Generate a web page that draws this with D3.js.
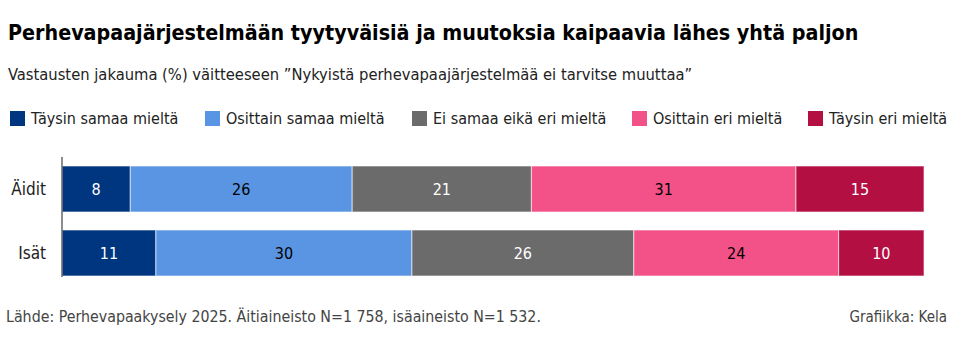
<!DOCTYPE html>
<html>
<head>
<meta charset="utf-8">
<script src="https://cdn.jsdelivr.net/npm/d3@7"></script>
<style>
  body { margin: 0; background: #fff; }
  text { font-family: "DejaVu Sans Condensed", "DejaVu Sans", sans-serif; }
</style>
</head>
<body>
<svg id="chart" width="960" height="353"></svg>
<script>
// Data
const groups = ['Äidit', 'Isät'];
const categories = ['Täysin samaa mieltä', 'Osittain samaa mieltä', 'Ei samaa eikä eri mieltä', 'Osittain eri mieltä', 'Täysin eri mieltä'];
const aiditValues = [8, 26, 21, 31, 15];
const isatValues = [11, 30, 26, 24, 10];
const colours = ['#003580', '#5a95e3', '#6b6b6b', '#f25287', '#b30f43'];
const labelColours = ['#fff', '#000', '#fff', '#000', '#fff'];

const svg = d3.select('#chart');

// Title and subtitle
svg.append('text')
  .attr('x', 8).attr('y', 40)
  .attr('font-size', 21.3).attr('font-weight', 'bold')
  .attr('fill', '#000')
  .text('Perhevapaajärjestelmään tyytyväisiä ja muutoksia kaipaavia lähes yhtä paljon');

svg.append('text')
  .attr('x', 8).attr('y', 80)
  .attr('font-size', 16.4).attr('fill', '#222')
  .text('Vastausten jakauma (%) väitteeseen ”Nykyistä perhevapaajärjestelmää ei tarvitse muuttaa”');

// Legend
const legendX = [10, 205, 412, 632, 808];
const legend = svg.append('g').attr('class', 'legend');
categories.forEach((c, i) => {
  const g = legend.append('g').attr('transform', `translate(${legendX[i]}, 111)`);
  g.append('rect').attr('width', 15).attr('height', 15).attr('fill', colours[i]);
  g.append('text').attr('x', 21).attr('y', 13).attr('font-size', 16).attr('fill', '#222').text(c);
});

// Scales
const x = d3.scaleLinear().domain([0, 101]).range([62, 924]);
const y = d3.scaleBand().domain(groups).range([166, 276]).paddingInner(0.28125).paddingOuter(0);

const rows = [aiditValues, isatValues].map((vals, gi) => {
  let acc = 0;
  return vals.map((v, i) => {
    const d = { group: groups[gi], i, v, x0: acc, x1: acc + v };
    acc += v;
    return d;
  });
});

const bars = svg.append('g').attr('class', 'bars');
rows.forEach(row => {
  const g = bars.append('g');
  g.selectAll('rect').data(row).enter().append('rect')
    .attr('x', d => x(d.x0))
    .attr('y', d => y(d.group))
    .attr('width', d => x(d.x1) - x(d.x0))
    .attr('height', y.bandwidth())
    .attr('fill', d => colours[d.i])
    .attr('stroke', 'rgba(255,255,255,0.6)')
    .attr('stroke-width', 1);
  g.selectAll('text').data(row).enter().append('text')
    .attr('x', d => (x(d.x0) + x(d.x1)) / 2)
    .attr('y', d => y(d.group) + y.bandwidth() / 2 + 6)
    .attr('text-anchor', 'middle')
    .attr('font-size', 16)
    .attr('fill', d => labelColours[d.i])
    .text(d => d.v);
});

// Category axis
svg.append('line')
  .attr('x1', 62).attr('x2', 62).attr('y1', 157).attr('y2', 277)
  .attr('stroke', '#666').attr('stroke-width', 1.5);

svg.append('g').selectAll('text').data(groups).enter().append('text')
  .attr('x', 46)
  .attr('y', d => y(d) + y.bandwidth() / 2 + 6)
  .attr('text-anchor', 'end')
  .attr('font-size', 17)
  .attr('fill', '#222')
  .text(d => d);

// Footer
svg.append('text')
  .attr('x', 6).attr('y', 322)
  .attr('font-size', 15.8).attr('fill', '#444')
  .text('Lähde: Perhevapaakysely 2025. Äitiaineisto N=1 758, isäaineisto N=1 532.');
svg.append('text')
  .attr('x', 947).attr('y', 322)
  .attr('text-anchor', 'end')
  .attr('font-size', 15).attr('fill', '#444')
  .text('Grafiikka: Kela');
</script>
</body>
</html>
